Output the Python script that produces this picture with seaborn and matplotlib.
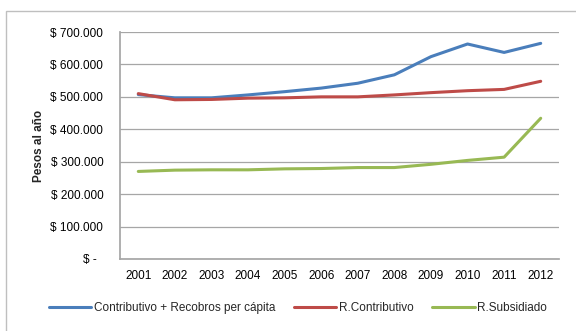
import matplotlib
matplotlib.use("Agg")
import matplotlib.pyplot as plt
from matplotlib.ticker import FuncFormatter, MultipleLocator
from matplotlib.patches import Rectangle
from matplotlib import font_manager
import seaborn as sns
import pandas as pd

years = [2001, 2002, 2003, 2004, 2005, 2006, 2007, 2008, 2009, 2010, 2011, 2012]
contrib_recobros = [507000, 497000, 497000, 506000, 516000, 527000, 542000, 568000, 624000, 663000, 637000, 665000]
r_contributivo = [510000, 491000, 492000, 496000, 497000, 500000, 500000, 506000, 513000, 519000, 523000, 548000]
r_subsidiado = [270000, 274000, 275000, 275000, 278000, 279000, 282000, 282000, 292000, 304000, 314000, 434000]

series_names = ["Contributivo + Recobros per cápita", "R.Contributivo", "R.Subsidiado"]
palette = ["#4A7EBB", "#BE4B48", "#98B954"]

df = pd.concat([
    pd.DataFrame({"Año": years, "Pesos": vals, "Serie": name})
    for name, vals in zip(series_names, [contrib_recobros, r_contributivo, r_subsidiado])
])

sns.set_theme(style="white")
available = {f.name for f in font_manager.fontManager.ttflist}
family = "Liberation Sans Narrow" if "Liberation Sans Narrow" in available else "Liberation Sans"
plt.rcParams["font.family"] = [family, "DejaVu Sans"]

fig = plt.figure(figsize=(5.76, 3.31), dpi=100)
ax = fig.add_axes([120 / 576, 1 - 259 / 331, 439 / 576, 227 / 331])

sns.lineplot(data=df, x="Año", y="Pesos", hue="Serie", palette=palette,
             linewidth=2.2, ax=ax, legend=False)

ax.set_xlim(2000.5, 2012.5)
ax.set_ylim(0, 700000)
ax.yaxis.set_major_locator(MultipleLocator(100000))
ax.set_xticks(years)
ax.set_xticklabels([str(y) for y in years])


def pesos(v, pos):
    if v == 0:
        return "$ -  "
    return "$ " + f"{int(round(v)):,}".replace(",", ".")


ax.yaxis.set_major_formatter(FuncFormatter(pesos))
ax.grid(axis="y", color="#A6A6A6", linewidth=0.9)
ax.set_axisbelow(True)
for side in ["top", "right"]:
    ax.spines[side].set_visible(False)
ax.spines["left"].set_color("#A6A6A6")
ax.spines["bottom"].set_color("#A6A6A6")
ax.tick_params(axis="both", length=0, labelsize=8.5, colors="black")
ax.tick_params(axis="y", pad=12)
ax.tick_params(axis="x", pad=8)

ax.set_xlabel("")
ax.set_ylabel("Pesos al año", fontsize=8.5, fontweight="bold", labelpad=4)

handles = [plt.Line2D([], [], color=c, linewidth=2.2) for c in palette]
fig.legend(handles, series_names, loc="center", bbox_to_anchor=(298 / 576, 1 - 308 / 331),
           ncol=3, frameon=False, fontsize=8.5, handlelength=3.6, handletextpad=0.2,
           columnspacing=1.6)

fig.patches.append(Rectangle((6 / 576, -0.05), 1.0, 1 - 11 / 331 + 0.05,
                             transform=fig.transFigure, fill=False,
                             edgecolor="#BFBFBF", linewidth=1.0))

fig.savefig("out.png", dpi=100)
